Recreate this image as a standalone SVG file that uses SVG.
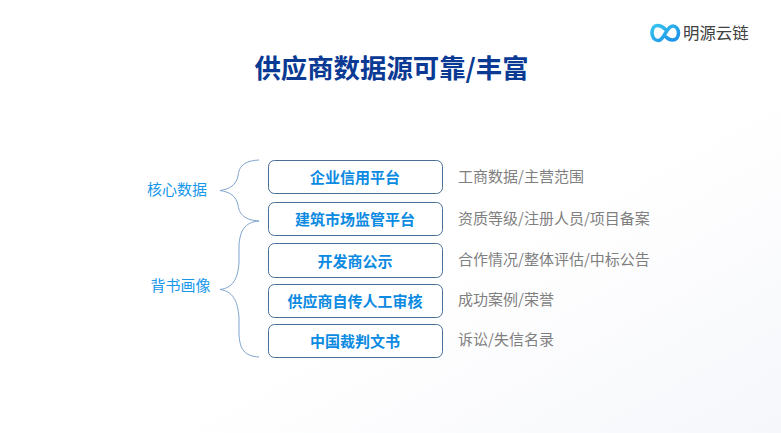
<svg xmlns="http://www.w3.org/2000/svg" width="781" height="433" viewBox="0 0 781 433">
<defs>
<linearGradient id="bg" x1="0" y1="0" x2="1" y2="1"><stop offset="0.6" stop-color="#ffffff"/><stop offset="1" stop-color="#f6f7fb"/></linearGradient>
<linearGradient id="logo" x1="0" y1="0" x2="1" y2="1"><stop offset="0" stop-color="#35c4ee"/><stop offset="1" stop-color="#1c8fe8"/></linearGradient>
</defs>
<style>
text{font-family:"Noto Sans CJK SC","Liberation Sans",sans-serif}
.box{fill:#fff;stroke:#4a6f96;stroke-width:1}
.bt{font-size:15px;font-weight:700;fill:#0b8ae2;text-anchor:middle}
.desc{font-size:15px;fill:#7f7f7f}
.side{font-size:15px;fill:#1797ea;text-anchor:middle}
.brace{fill:none;stroke:#7fa3cf;stroke-width:1}
</style>
<rect width="781" height="433" fill="url(#bg)"/>
<text x="391.500" y="78" font-size="26.400" font-weight="700" fill="#0a3a94" text-anchor="middle">供应商数据源可靠/丰富</text>
<g id="logo-mark">
<path d="M665 29 C662 26 659 25.500 657.500 25.500 C654 25.500 652 29 652 33 C652 37 654.500 40.500 658 40.500 C662 40.500 664 35 665.500 33 C667 30.500 669.500 26 673 26 C676 26 678.500 29 678.500 33 C678.500 37 676 40 672.500 40 C670 40 668 39 666 37" fill="none" stroke="url(#logo)" stroke-width="3.600" stroke-linecap="round"/>
<text x="683" y="39" font-size="16.400" fill="#404040">明源云链</text>
</g>
<g id="connectors">
<path class="brace" d="M259 160 C240 161 239 170 238 176 C236 185 230 189 220 190.500 C230 192 236 196 238 205 C239 212 242 220 259 221"/>
<path class="brace" d="M259 221 C244 222 240 232 239 245 L239 262 C238 280 232 288 220 289.500 C232 291 238 300 239 318 L239 335 C240 349 244 356 259 357"/>
</g>
<g id="side-core"><text class="side" x="177" y="194.500">核心数据</text></g>
<g id="side-endorse"><text class="side" x="180.500" y="291">背书画像</text></g>
<g id="n1"><rect class="box" x="268.500" y="160.500" width="174" height="33" rx="6"/><text class="bt" x="355" y="182.500">企业信用平台</text></g>
<g id="n2"><rect class="box" x="268.500" y="202.500" width="174" height="33" rx="6"/><text class="bt" x="355" y="224.500">建筑市场监管平台</text></g>
<g id="n3"><rect class="box" x="268.500" y="243.500" width="174" height="34" rx="6"/><text class="bt" x="355" y="266.500">开发商公示</text></g>
<g id="n4"><rect class="box" x="268.500" y="284.500" width="174" height="33" rx="6"/><text class="bt" x="355" y="306.500">供应商自传人工审核</text></g>
<g id="n5"><rect class="box" x="268.500" y="324.500" width="174" height="33" rx="6"/><text class="bt" x="355" y="346.500">中国裁判文书</text></g>
<g id="d1"><text class="desc" x="458" y="181.500">工商数据/主营范围</text></g>
<g id="d2"><text class="desc" x="458" y="223.500">资质等级/注册人员/项目备案</text></g>
<g id="d3"><text class="desc" x="458" y="264.500">合作情况/整体评估/中标公告</text></g>
<g id="d4"><text class="desc" x="458" y="304.500">成功案例/荣誉</text></g>
<g id="d5"><text class="desc" x="458" y="344.500">诉讼/失信名录</text></g>
</svg>
